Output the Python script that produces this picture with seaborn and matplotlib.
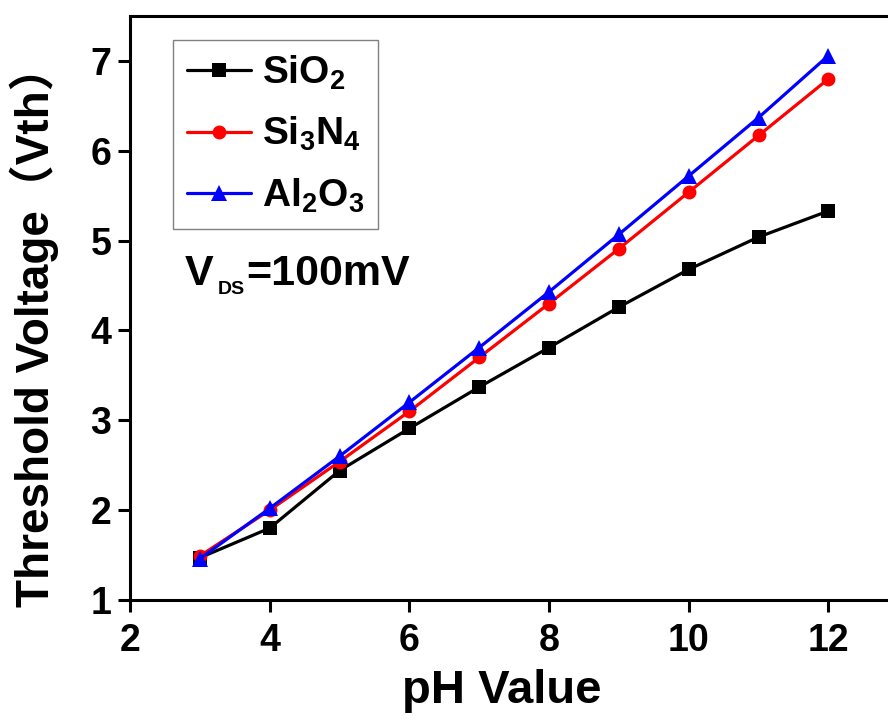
import numpy as np
import pandas as pd
import matplotlib
matplotlib.use("Agg")
import matplotlib.pyplot as plt
import seaborn as sns

# ---- data ----
ph = [3, 4, 5, 6, 7, 8, 9, 10, 11, 12]
sio2 = [1.47, 1.80, 2.44, 2.91, 3.37, 3.81, 4.26, 4.68, 5.04, 5.33]
si3n4 = [1.49, 2.00, 2.54, 3.10, 3.70, 4.30, 4.91, 5.54, 6.17, 6.80]
al2o3 = [1.46, 2.02, 2.60, 3.20, 3.81, 4.43, 5.07, 5.72, 6.37, 7.06]
materials = ["SiO2", "Si3N4", "Al2O3"]
legend_labels = [r"SiO$_2$", r"Si$_3$N$_4$", r"Al$_2$O$_3$"]
x_ticks = [2, 4, 6, 8, 10, 12]
y_ticks = [1, 2, 3, 4, 5, 6, 7]

df = pd.DataFrame({
    "pH": ph * 3,
    "Vth": sio2 + si3n4 + al2o3,
    "Material": [m for m in materials for _ in ph],
})

sns.set_style("ticks")
plt.rcParams["font.family"] = ["Liberation Sans", "Noto Sans CJK SC"]
plt.rcParams["font.weight"] = "bold"
plt.rcParams["mathtext.default"] = "regular"
for k in ["text.color", "axes.labelcolor", "xtick.color", "ytick.color",
          "axes.edgecolor"]:
    plt.rcParams[k] = "black"

fig = plt.figure(figsize=(8.88, 7.19), dpi=100)
ax = fig.add_axes([130 / 888, 119 / 719, 768.3 / 888, 584 / 719])

palette = {"SiO2": "#000000", "Si3N4": "#ff0000", "Al2O3": "#0000ff"}
markers = {"SiO2": "s", "Si3N4": "o", "Al2O3": "^"}
sns.lineplot(data=df, x="pH", y="Vth", hue="Material", style="Material",
             hue_order=materials, style_order=materials,
             palette=palette, markers=markers, dashes=False,
             linewidth=2.3, markersize=10, markeredgewidth=0, ax=ax)

marker_sizes = {"SiO2": 9.5, "Si3N4": 10, "Al2O3": 12}
for line, m in zip(ax.lines[:3], materials):
    line.set_markersize(marker_sizes[m])

ax.set_xlim(2, 13)
ax.set_ylim(1, 7.5)
ax.set_xticks(x_ticks)
ax.set_yticks(y_ticks)

for s in ["left", "bottom", "top", "right"]:
    ax.spines[s].set_linewidth(2.2)
    ax.spines[s].set_color("black")

ax.tick_params(axis="both", direction="out", length=8.5, width=2.2,
               labelsize=27, colors="black")
ax.tick_params(axis="y", pad=5)
ax.tick_params(axis="x", pad=8)
for lab in ax.get_xticklabels() + ax.get_yticklabels():
    lab.set_fontweight("bold")

ax.set_xlabel("pH Value", fontsize=34, fontweight="bold")
ax.set_ylabel("Threshold Voltage（Vth）", fontsize=33, fontweight="bold")
ax.xaxis.set_label_coords(0.484, -0.118)
ax.yaxis.set_label_coords(-0.092, 0.47)

handles, _ = ax.get_legend_handles_labels()
handles = handles[-3:]
for h, m in zip(handles, materials):
    h.set_markersize(marker_sizes[m])
leg = ax.legend(handles, legend_labels, loc="upper left",
                bbox_to_anchor=(0.056, 0.959), borderaxespad=0,
                fancybox=False, frameon=True, framealpha=1,
                prop={"size": 28, "weight": "bold"},
                handlelength=1.65, handletextpad=0.3, labelspacing=0.6,
                borderpad=0.35)
leg.get_frame().set_edgecolor("#808080")
leg.get_frame().set_linewidth(1.0)

# V_DS annotation
t1 = ax.text(0.0716, 0.539, "V", transform=ax.transAxes, fontsize=31,
             fontweight="bold", va="baseline", ha="left")
t2 = ax.annotate("DS", xy=(1, 0), xycoords=t1, xytext=(3, 0),
                 textcoords="offset points", fontsize=14, fontweight="bold",
                 va="baseline", ha="left")
t3 = ax.annotate("=100mV", xy=(1, 0), xycoords=(t2, t1), xytext=(1, 0),
                 textcoords="offset points", fontsize=31, fontweight="bold",
                 va="bottom", ha="left")

fig.savefig("out.png", dpi=100)
